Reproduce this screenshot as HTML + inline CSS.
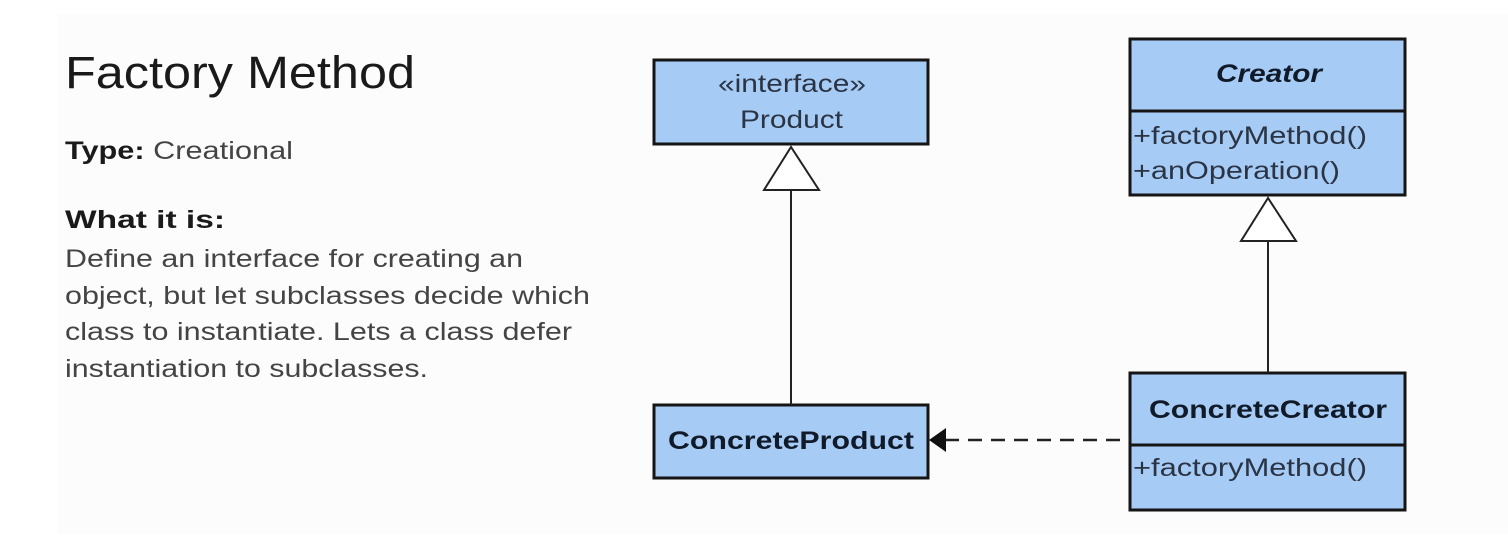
<!DOCTYPE html>
<html><head><meta charset="utf-8"><style>
html,body{margin:0;padding:0;background:#fff;}
body{width:1508px;height:540px;position:relative;overflow:hidden;font-family:"Liberation Sans",Arial,sans-serif;}
.bg{position:absolute;left:58px;top:14px;width:1450px;height:520px;background:#fcfcfc;}
</style></head><body>
<div class="bg"></div>
<svg width="1508" height="540" style="position:absolute;left:0;top:0" font-family="Liberation Sans, Arial, sans-serif">
<g font-size="25" fill="#444">
<text x="65" y="88" font-size="45" fill="#1a1a1a" textLength="350" lengthAdjust="spacingAndGlyphs">Factory Method</text>
<text x="65" y="159" textLength="228" lengthAdjust="spacingAndGlyphs"><tspan font-weight="bold" fill="#1a1a1a">Type:</tspan> Creational</text>
<text x="65" y="228" font-weight="bold" fill="#1a1a1a" textLength="160" lengthAdjust="spacingAndGlyphs">What it is:</text>
<text x="65" y="267" textLength="458" lengthAdjust="spacingAndGlyphs">Define an interface for creating an</text>
<text x="65" y="304" textLength="525" lengthAdjust="spacingAndGlyphs">object, but let subclasses decide which</text>
<text x="65" y="340" textLength="507" lengthAdjust="spacingAndGlyphs">class to instantiate. Lets a class defer</text>
<text x="65" y="377" textLength="363" lengthAdjust="spacingAndGlyphs">instantiation to subclasses.</text>
</g>
<g stroke="#151515" stroke-width="3" fill="#a6ccf6">
<rect x="654" y="60" width="274" height="84"/>
<rect x="654" y="405" width="274" height="73"/>
<rect x="1130" y="39" width="275" height="156"/>
<line x1="1130" y1="111" x2="1405" y2="111"/>
<rect x="1130" y="373" width="275" height="137"/>
<line x1="1130" y1="445" x2="1405" y2="445"/>
</g>
<g stroke="#222" stroke-width="2" fill="#fff">
<line x1="791" y1="190" x2="791" y2="405"/>
<polygon points="791,147 764,190 819,190"/>
<line x1="1268" y1="241" x2="1268" y2="373"/>
<polygon points="1268,198 1241,241 1296,241"/>
</g>
<line x1="945" y1="440" x2="1130" y2="440" stroke="#222" stroke-width="2.5" stroke-dasharray="14,9"/>
<polygon points="929,440 946,428 946,452" fill="#111"/>
<g fill="#2b3444" font-size="25">
<text x="718" y="92" textLength="148" lengthAdjust="spacingAndGlyphs">«interface»</text>
<text x="740" y="128" textLength="103" lengthAdjust="spacingAndGlyphs">Product</text>
<text x="668" y="449" font-weight="bold" fill="#111a28" textLength="246" lengthAdjust="spacingAndGlyphs">ConcreteProduct</text>
<text x="1216" y="82" font-weight="bold" font-style="italic" fill="#111a28" textLength="106" lengthAdjust="spacingAndGlyphs">Creator</text>
<text x="1133" y="144" textLength="234" lengthAdjust="spacingAndGlyphs">+factoryMethod()</text>
<text x="1133" y="179" textLength="207" lengthAdjust="spacingAndGlyphs">+anOperation()</text>
<text x="1149" y="418" font-weight="bold" fill="#111a28" textLength="238" lengthAdjust="spacingAndGlyphs">ConcreteCreator</text>
<text x="1133" y="476" textLength="234" lengthAdjust="spacingAndGlyphs">+factoryMethod()</text>
</g>
</svg>
</body></html>
